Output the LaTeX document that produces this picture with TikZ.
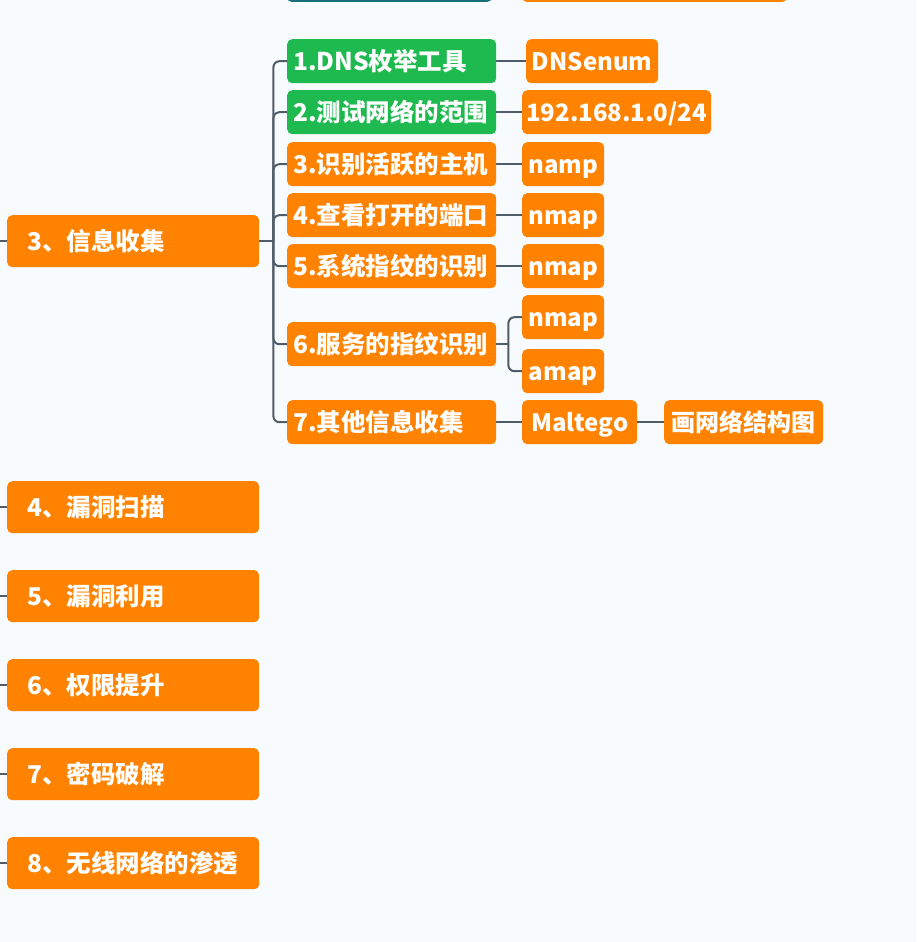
\documentclass[tikz,border=0pt]{standalone}
\usepackage{fontspec}
\setmainfont{Noto Sans CJK SC}
\definecolor{mmorange}{RGB}{255,130,0}
\definecolor{mmgreen}{RGB}{30,186,80}
\definecolor{mmteal}{RGB}{22,112,122}
\definecolor{mmline}{RGB}{80,92,104}
\definecolor{mmbg}{RGB}{247,251,253}
\tikzset{
  box/.style={rounded corners=5pt, fill=mmorange, text=white,
    font=\bfseries\fontsize{24.5}{24.5}\selectfont, anchor=north west,
    inner ysep=0pt, text height=21pt, text depth=3pt},
  lone/.style={box, minimum height=52pt, inner xsep=20pt, text width=212pt, align=left},
  ltwo/.style={box, minimum height=44pt, inner xsep=6pt, text width=197pt, align=left},
  lthree/.style={box, font=\bfseries\fontsize{24}{24}\selectfont,
    minimum height=44pt, inner xsep=4pt, text width=#1, align=center},
  grn/.style={fill=mmgreen},
  conn/.style={draw=mmline, line width=2pt},
}
\begin{document}
\begin{tikzpicture}[x=1pt,y=-1pt]
\useasboundingbox (0,0) rectangle (916,942);
\fill[mmbg] (0,0) rectangle (916,942);
\clip (0,0) rectangle (916,942);
% partially visible boxes at the top edge
\fill[mmteal, rounded corners=5pt] (287,-42) rectangle (492,2);
\fill[mmorange, rounded corners=5pt] (522,-42) rectangle (787,2);

% level 1
\node[lone] (m3) at (7,215) {3、信息收集};
\node[lone] (m4) at (7,481) {4、漏洞扫描};
\node[lone] (m5) at (7,570) {5、漏洞利用};
\node[lone] (m6) at (7,659) {6、权限提升};
\node[lone] (m7) at (7,748) {7、密码破解};
\node[lone] (m8) at (7,837) {8、无线网络的渗透};

% level 2
\node[ltwo, grn] (c1) at (287,39) {1.DNS枚举工具};
\node[ltwo, grn] (c2) at (287,90) {2.测试网络的范围};
\node[ltwo] (c3) at (287,142) {3.识别活跃的主机};
\node[ltwo] (c4) at (287,193) {4.查看打开的端口};
\node[ltwo] (c5) at (287,244) {5.系统指纹的识别};
\node[ltwo] (c6) at (287,322) {6.服务的指纹识别};
\node[ltwo] (c7) at (287,400) {7.其他信息收集};

% level 3
\node[lthree=124pt] (d1) at (526,39) {DNSenum};
\node[lthree=181pt] (d2) at (522,90) {192.168.1.0/24};
\node[lthree=74pt] (d3) at (522,142) {namp};
\node[lthree=74pt] (d4) at (522,193) {nmap};
\node[lthree=74pt] (d5) at (522,244) {nmap};
\node[lthree=74pt] (d6a) at (522,295) {nmap};
\node[lthree=74pt] (d6b) at (522,349) {amap};
\node[lthree=107pt] (d7) at (522,400) {Maltego};
\node[lthree=151pt] (e7) at (664,400) {画网络结构图};

% connectors
\foreach \m in {m3,m4,m5,m6,m7,m8}
  \draw[conn] (\m.west) -- ++(-10,0);
\coordinate (j3) at ([xshift=14pt]m3.east);
\draw[conn] (m3.east) -- (j3);
\foreach \c in {c1,c2,c3,c4,c5,c6,c7}
  \draw[conn, rounded corners=6pt] (j3) |- (\c.west);
\draw[conn] (c1.east) -- (d1.west);
\draw[conn] (c2.east) -- (d2.west);
\draw[conn] (c3.east) -- (d3.west);
\draw[conn] (c4.east) -- (d4.west);
\draw[conn] (c5.east) -- (d5.west);
\coordinate (j6) at ([xshift=12pt]c6.east);
\draw[conn] (c6.east) -- (j6);
\draw[conn, rounded corners=6pt] (j6) |- (d6a.west);
\draw[conn, rounded corners=6pt] (j6) |- (d6b.west);
\draw[conn] (c7.east) -- (d7.west);
\draw[conn] (d7.east) -- (e7.west);
\end{tikzpicture}
\end{document}
